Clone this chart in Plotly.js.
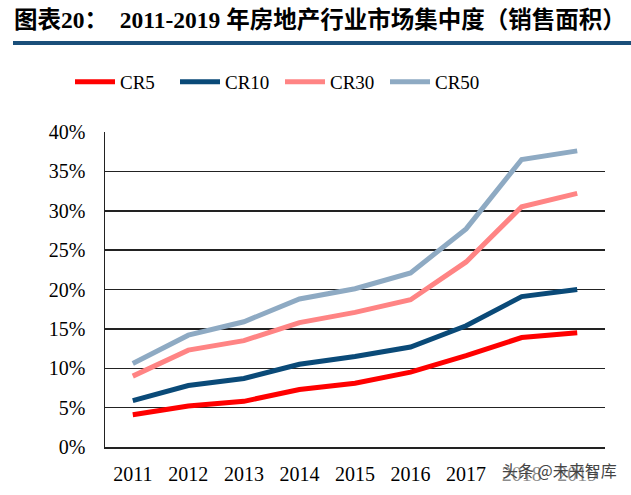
<!DOCTYPE html>
<html><head><meta charset="utf-8">
<script src="https://cdn.plot.ly/plotly-3.0.1.min.js"></script>
<style>html,body{margin:0;padding:0;background:#fff;}</style>
</head><body>
<div id="chart" style="width:631px;height:495px;"></div>
<script>
const years = ['2011','2012','2013','2014','2015','2016','2017','2018','2019'];
const cr5  = [0.041, 0.052, 0.058, 0.073, 0.081, 0.095, 0.116, 0.139, 0.145];
const cr10 = [0.059, 0.078, 0.087, 0.105, 0.115, 0.127, 0.154, 0.191, 0.200];
const cr30 = [0.090, 0.123, 0.135, 0.158, 0.171, 0.187, 0.235, 0.305, 0.322];
const cr50 = [0.106, 0.142, 0.159, 0.188, 0.201, 0.221, 0.277, 0.365, 0.376];
const names = ['CR5','CR10','CR30','CR50'];
const colors = ['#ff0000','#0a4a78','#ff8484','#8eaac3'];
const series = [cr5, cr10, cr30, cr50];

const SERIF = 'Liberation Serif, Times New Roman, serif';

const traces = series.map((s,i)=>({
  x: years, y: s, name: names[i], type:'scatter', mode:'lines',
  line:{color:colors[i], width:5}, hoverinfo:'skip'
}));

const layout = {
  width:631, height:495,
  margin:{l:105, r:26, t:132, b:48},
  paper_bgcolor:'#fff', plot_bgcolor:'#fff',
  font:{family:SERIF, color:'#000', size:20},
  title:{text:'<b>图表20：  2011-2019 年房地产行业市场集中度（销售面积）</b>',
    font:{family:'Liberation Serif, Noto Sans CJK SC, serif', size:23.5, color:'#000'},
    x:14/631, xanchor:'left', xref:'container', y:1-20/495, yanchor:'middle', yref:'container'},
  showlegend:true,
  legend:{orientation:'h', xref:'paper', yref:'paper', x:(70-105)/500, xanchor:'left', y:(447-82)/315, yanchor:'middle',
    font:{size:19, family:SERIF}, entrywidth:50, entrywidthmode:'pixels',
    tracegroupgap:0, itemwidth:40, bgcolor:'rgba(0,0,0,0)'},
  xaxis:{type:'category', range:[-0.5,8.5], showgrid:false, showline:true, linecolor:'#222', linewidth:1.5,
    ticks:'', tickfont:{size:20, family:SERIF}, ticklabelstandoff:8, fixedrange:true, automargin:false},
  yaxis:{range:[0,0.4], dtick:0.05, tickformat:'.0%', showgrid:true, gridcolor:'#222', gridwidth:1.5,
    showline:true, linecolor:'#222', linewidth:1.5, zeroline:false, ticks:'',
    tickfont:{size:20, family:SERIF}, ticklabelstandoff:14, fixedrange:true, automargin:false},
  shapes:[{type:'line', xref:'paper', yref:'paper', x0:(13-105)/500, x1:(631-105)/500,
    y0:(447-43)/315, y1:(447-43)/315, line:{color:'#1a4f7a', width:4}}],
  annotations:[{xref:'paper', yref:'paper', x:(559-105)/500, y:(447-470)/315, xanchor:'center', yanchor:'middle',
    text:'头条 @未来智库', showarrow:false,
    font:{family:'Noto Sans CJK SC, sans-serif', size:16, color:'#444'}, bgcolor:'rgba(255,255,255,0.55)'}]
};
Plotly.newPlot('chart', traces, layout, {displayModeBar:false, staticPlot:true});
</script>
</body></html>
